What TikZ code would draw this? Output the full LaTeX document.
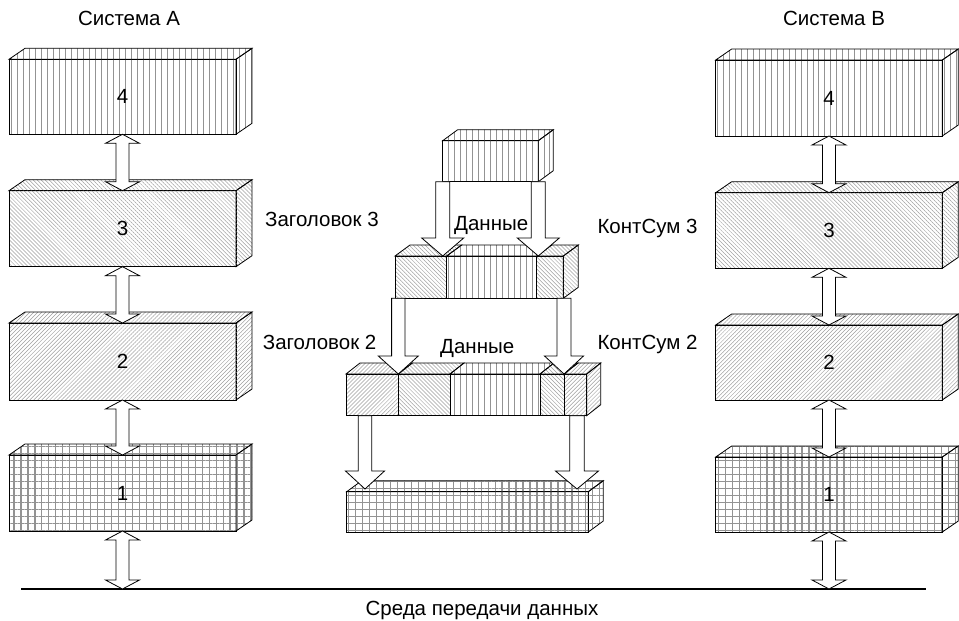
\documentclass[tikz,border=0pt]{standalone}
\usepackage{fontspec}
\setmainfont{Liberation Sans}
\usetikzlibrary{patterns.meta,calc}
\tikzset{
 face/.style={draw=black,line width=0.8pt,line join=miter},
 vl/.style={pattern={Lines[angle=90,distance=5.978pt,line width=1pt]},pattern color=gray!85},
 nwl/.style={pattern={Lines[angle=-45,distance=2.818pt,line width=0.5pt]},pattern color=gray!75},
 nel/.style={pattern={Lines[angle=45,distance=2.818pt,line width=0.5pt]},pattern color=gray!75},
 grl/.style={pattern={Hatch[angle=0,distance=6.974pt,line width=1.3pt]},pattern color=gray!85},
 fbox/.style={face,inner sep=0pt,outer sep=0pt},
 blk/.style={draw=black,fill=white,line width=0.8pt,line join=miter},
 lbl/.style={inner sep=0pt,anchor=base west},
 every node/.style={font=\fontsize{20.5}{24}\selectfont},
}
% top and side faces of a front-face node
\newcommand\topface[3]{\draw[face,#2] (#1.north west) -- ++(#3) -- ($(#1.north east)+(#3)$) -- (#1.north east) -- cycle;}
\newcommand\sideface[3]{\draw[face,#2] (#1.north east) -- ++(#3) -- ($(#1.south east)+(#3)$) -- (#1.south east) -- cycle;}
% vertical double block arrow from top tip #1 to bottom tip #2
\newcommand\dblarr[2]{\draw[blk] (#1) -- ($(#1)+(17,9)$) -- ($(#1)+(6.5,9)$) -- ($(#2)+(6.5,-9)$) -- ($(#2)+(17,-9)$) -- (#2) -- ($(#2)+(-17,-9)$) -- ($(#2)+(-6.5,-9)$) -- ($(#1)+(-6.5,9)$) -- ($(#1)+(-17,9)$) -- cycle;}
% downward block arrow from shaft top #1 to tip #2, shaft half width #3, head half width #4
\newcommand\downarr[4]{\draw[blk] ($(#1)+(-#3,0)$) -- ($(#2)+(-#3,-18)$) -- ($(#2)+(-#4,-18)$) -- (#2) -- ($(#2)+(#4,-18)$) -- ($(#2)+(#3,-18)$) -- ($(#1)+(#3,0)$) -- cycle;}
\begin{document}
\begin{tikzpicture}[x=1pt,y=-1pt]
\useasboundingbox (0,0) rectangle (959,621);

% ---------- System A ----------
\node[inner sep=0pt,anchor=base] (sysA) at (129,25) {Система A};
\node[fbox,vl,minimum width=227pt,minimum height=75pt] (A4) at (122.5,96.8) {4};
\node[fbox,nwl,minimum width=227pt,minimum height=76pt] (A3) at (122.5,228.7) {3};
\node[fbox,nel,minimum width=227pt,minimum height=77pt] (A2) at (122.5,361.5) {2};
\node[fbox,grl,minimum width=227pt,minimum height=76pt] (A1) at (122.5,493) {1};
\topface{A4}{vl}{16,-11}\sideface{A4}{vl}{16,-11}
\topface{A3}{nwl}{16,-11}\sideface{A3}{nwl}{16,-11}
\topface{A2}{nel}{16,-11}\sideface{A2}{nel}{16,-11}
\topface{A1}{grl}{16,-11}\sideface{A1}{grl}{16,-11}

% ---------- System B ----------
\node[inner sep=0pt,anchor=base] (sysB) at (834,25) {Система B};
\node[fbox,vl,minimum width=226.6pt,minimum height=76pt] (B4) at (829,98) {4};
\node[fbox,nwl,minimum width=226.6pt,minimum height=75.6pt] (B3) at (829,230.5) {3};
\node[fbox,nel,minimum width=226.6pt,minimum height=75pt] (B2) at (829,362.5) {2};
\node[fbox,grl,minimum width=226.6pt,minimum height=75pt] (B1) at (829,494.5) {1};
\topface{B4}{vl}{16,-11}\sideface{B4}{vl}{16,-11}
\topface{B3}{nwl}{16,-11}\sideface{B3}{nwl}{16,-11}
\topface{B2}{nel}{16,-11}\sideface{B2}{nel}{16,-11}
\topface{B1}{grl}{16,-11}\sideface{B1}{grl}{16,-11}

% ---------- medium ----------
\coordinate (lineL) at (21,589);
\coordinate (lineR) at (926,589);
\draw[line width=1.8pt] (lineL) -- (lineR);
\node[anchor=base,inner sep=0pt] (medium) at (482,615) {Среда передачи данных};

% ---------- middle: data unit ----------
\node[fbox,vl,minimum width=95.6pt,minimum height=41pt] (D) at (490.5,161.2) {};
\topface{D}{vl}{15,-11}\sideface{D}{vl}{15,-11}

% level 3 unit
\node[fbox,nwl,minimum width=51.7pt,minimum height=42.3pt] (H3) at (420.85,277.15) {};
\node[fbox,vl,minimum width=90pt,minimum height=42.3pt] (D3) at (491.7,277.15) {};
\node[fbox,nwl,minimum width=26.6pt,minimum height=42.3pt] (C3) at (550,277.15) {};
\topface{H3}{nwl}{15,-11}\topface{D3}{vl}{15,-11}\topface{C3}{nwl}{15,-11}\sideface{C3}{nwl}{15,-11}

% level 2 unit
\node[fbox,nel,minimum width=52.3pt,minimum height=41.7pt] (P1) at (372.15,394.85) {};
\node[fbox,nwl,minimum width=51.7pt,minimum height=41.7pt] (P2) at (424.15,394.85) {};
\node[fbox,vl,minimum width=90pt,minimum height=41.7pt] (P3) at (495,394.85) {};
\node[fbox,nwl,minimum width=24pt,minimum height=41.7pt] (P4) at (552,394.85) {};
\node[fbox,nel,minimum width=22.7pt,minimum height=41.7pt] (P5) at (575.35,394.85) {};
\topface{P1}{nel}{14,-11}\topface{P2}{nwl}{14,-11}\topface{P3}{vl}{14,-11}\topface{P4}{nwl}{14,-11}\topface{P5}{nel}{14,-11}\sideface{P5}{nel}{14,-11}

% level 1 unit
\node[fbox,grl,minimum width=241.6pt,minimum height=40.3pt] (L1) at (467.5,511.85) {};
\topface{L1}{grl}{15,-11}\sideface{L1}{grl}{15,-11}

% ---------- arrows ----------
\dblarr{A4.south}{A3.north}
\dblarr{A3.south}{A2.north}
\dblarr{A2.south}{A1.north}
\coordinate (a1b) at (A1.south |- lineL);
\dblarr{A1.south}{a1b}
\dblarr{B4.south}{B3.north}
\dblarr{B3.south}{B2.north}
\dblarr{B2.south}{B1.north}
\coordinate (b1b) at (B1.south |- lineR);
\dblarr{B1.south}{b1b}

\coordinate (t1) at (D.south west |- H3.north);
\coordinate (t2) at (D.south east |- C3.north);
\downarr{D.south west}{t1}{7}{21}
\downarr{D.south east}{t2}{7}{21}
\coordinate (s3) at (P1.north east |- H3.south);
\coordinate (s4) at (P4.north east |- C3.south);
\downarr{s3}{P1.north east}{6.7}{20}
\downarr{s4}{P4.north east}{7}{19.5}
\coordinate (s5) at (365,415.7);
\coordinate (t5) at (365,489);
\coordinate (s6) at (577,415.7);
\coordinate (t6) at (577,489);
\downarr{s5}{t5}{6.7}{19.5}
\downarr{s6}{t6}{7.3}{21.5}

% ---------- labels ----------
\node[lbl] (z3) at (265,226) {Заголовок 3};
\node[lbl] (z2) at (262.7,349) {Заголовок 2};
\node[lbl] (k3) at (597.3,233.5) {КонтСум 3};
\node[lbl] (k2) at (597.3,349) {КонтСум 2};
\node[lbl] (d3) at (454,230) {Данные};
\node[lbl] (d2) at (440,353) {Данные};
\end{tikzpicture}
\end{document}
